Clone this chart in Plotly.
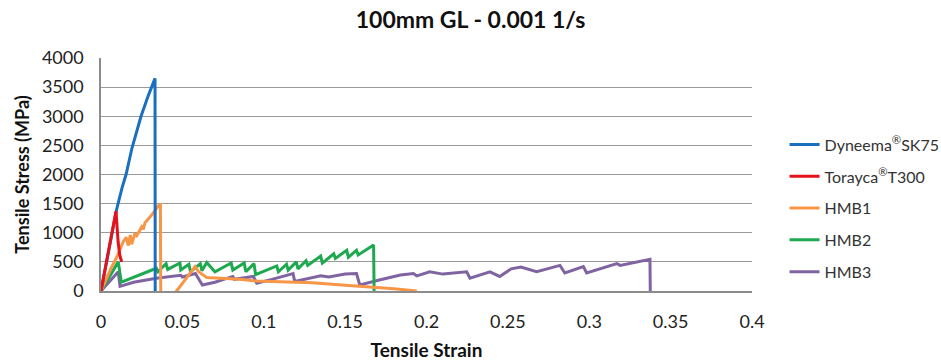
import plotly.graph_objects as go

# ---- data (strain, stress in MPa) ----
dyneema_strain = [0, 0.004, 0.0096, 0.013, 0.0154, 0.019, 0.0246, 0.029, 0.0332, 0.0333]
dyneema_stress = [0, 600, 1400, 1780, 2000, 2450, 3000, 3350, 3650, 0]

torayca_strain = [0, 0.0092, 0.0105, 0.0115, 0.0127]
torayca_stress = [0, 1370, 850, 620, 500]

hmb1_strain = [0, 0.006, 0.010, 0.0137, 0.0155, 0.0168, 0.018, 0.0188, 0.0209, 0.022, 0.025, 0.026,
               0.027, 0.031, 0.0355, 0.0365, 0.0367, 0.038, 0.044, 0.0465, 0.0578, 0.060, 0.065,
               0.075, 0.085, 0.0957, 0.11, 0.13, 0.15, 0.163, 0.18, 0.194]
hmb1_stress = [0, 380, 600, 850, 920, 780, 960, 800, 990, 950, 1100, 1060,
               1170, 1300, 1470, 1480, 0, -60, -60, 0, 420, 330, 230,
               220, 200, 170, 160, 140, 100, 75, 40, 0]

hmb2_strain = [0, 0.0106, 0.0125, 0.034, 0.035, 0.040, 0.041, 0.0485, 0.049, 0.054, 0.055, 0.061,
               0.062, 0.065, 0.070, 0.080, 0.081, 0.088, 0.089, 0.094, 0.095, 0.108, 0.109, 0.114,
               0.115, 0.120, 0.121, 0.126, 0.127, 0.135, 0.136, 0.143, 0.144, 0.151, 0.152, 0.157,
               0.158, 0.1675, 0.1678]
hmb2_stress = [0, 500, 150, 390, 330, 470, 370, 480, 360, 460, 330, 470,
               350, 490, 330, 480, 360, 480, 330, 470, 280, 430, 330, 460,
               360, 500, 380, 520, 440, 600, 480, 640, 560, 700, 580, 700,
               620, 790, 0]

hmb3_strain = [0, 0.0106, 0.0117, 0.02, 0.034, 0.045, 0.049, 0.050, 0.058, 0.0623, 0.07, 0.081,
               0.082, 0.0936, 0.0957, 0.105, 0.118, 0.119, 0.13, 0.135, 0.14, 0.15, 0.157, 0.159,
               0.171, 0.184, 0.192, 0.194, 0.202, 0.21, 0.2247, 0.2267, 0.239, 0.245, 0.252, 0.258,
               0.2677, 0.282, 0.285, 0.2964, 0.2984, 0.317, 0.319, 0.3373, 0.3375]
hmb3_stress = [0, 330, 80, 150, 220, 250, 270, 240, 300, 103, 150, 250,
               200, 250, 135, 200, 300, 165, 230, 260, 240, 290, 300, 105,
               190, 275, 300, 260, 330, 290, 330, 220, 330, 250, 380, 410,
               330, 440, 310, 420, 310, 470, 440, 545, 0]

series_names = ["Dyneema<sup>®</sup>SK75", "Torayca<sup>®</sup>T300", "HMB1", "HMB2", "HMB3"]
series_x = [dyneema_strain, torayca_strain, hmb1_strain, hmb2_strain, hmb3_strain]
series_y = [dyneema_stress, torayca_stress, hmb1_stress, hmb2_stress, hmb3_stress]
series_colors = ["#1b6fbf", "#e5121b", "#f79646", "#1ea84f", "#8064a2"]

x_ticks = [0, 0.05, 0.1, 0.15, 0.2, 0.25, 0.3, 0.35, 0.4]
x_tick_text = ["0", "0.05", "0.1", "0.15", "0.2", "0.25", "0.3", "0.35", "0.4"]
y_ticks = [0, 500, 1000, 1500, 2000, 2500, 3000, 3500, 4000]

FONT = "Lato, 'Open Sans', sans-serif"

fig = go.Figure()
draw_order = [4, 3, 2, 0, 1]
for i in draw_order:
    fig.add_trace(go.Scatter(
        x=series_x[i], y=series_y[i], mode="lines", name=series_names[i],
        line=dict(color=series_colors[i], width=3), legendgroup=str(i),
        legendrank=i + 1,
    ))

fig.update_layout(
    width=941, height=363,
    margin=dict(l=101, r=189, t=58, b=72, autoexpand=False),
    paper_bgcolor="white", plot_bgcolor="white",
    title=dict(text="<b>100mm GL - 0.001 1/s</b>", x=0.5, xanchor="center",
               y=0.945, yanchor="middle", font=dict(family=FONT, size=23, color="#111")),
    font=dict(family=FONT, color="#222"),
    legend=dict(x=1.05, xanchor="left", y=0.356, yanchor="middle",
                font=dict(family=FONT, size=16, color="#333"),
                tracegroupgap=8, bgcolor="rgba(0,0,0,0)", itemwidth=30),
    showlegend=True,
)
fig.update_xaxes(
    range=[0, 0.4], tickvals=x_ticks, ticktext=x_tick_text,
    showgrid=False, showline=True, linecolor="#8c8c8c", linewidth=1.5,
    ticks="", tickfont=dict(family=FONT, size=18, color="#222"),
    ticklabelstandoff=14,
    title=dict(text="<b>Tensile Strain</b>", font=dict(family=FONT, size=19, color="#111"), standoff=12),
    zeroline=False, automargin=False,
)
fig.update_yaxes(
    range=[0, 4000], tickvals=y_ticks,
    showgrid=True, gridcolor="#9a9a9a", gridwidth=1,
    showline=True, linecolor="#8c8c8c", linewidth=1.5,
    ticks="", tickfont=dict(family=FONT, size=18, color="#222"),
    ticklabelstandoff=12,
    title=dict(text="<b>Tensile Stress (MPa)</b>", font=dict(family=FONT, size=18, color="#111"), standoff=8),
    zeroline=False, automargin=False,
)

fig.write_html("out.html", config={"displayModeBar": False},
               post_script="document.body.style.margin='0';document.body.style.padding='0';")
